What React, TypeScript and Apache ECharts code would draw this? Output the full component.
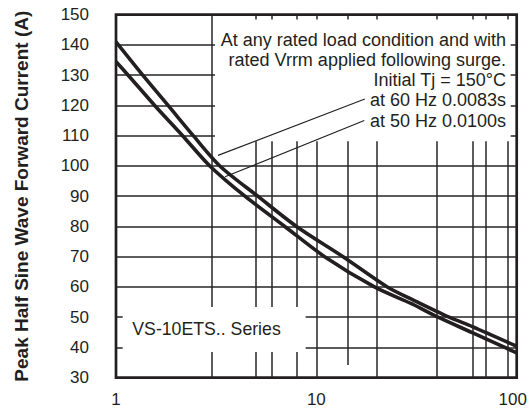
import React, { useEffect, useRef } from "react";
import * as echarts from "echarts";

// ---- data ----
// upper curve: 60 Hz, 0.0083 s
const curve60Hz: [number, number][] = [
  [1, 141], [1.36, 130], [1.82, 120], [2.43, 110], [3.3, 100], [5.1, 90],
  [7.96, 80], [13.6, 70], [22.6, 60], [30, 55.9], [46, 50], [60, 46.9], [100, 40.4],
];
// lower curve: 50 Hz, 0.0100 s
const curve50Hz: [number, number][] = [
  [1, 134.5], [1.15, 130], [1.56, 120], [2.15, 110], [2.94, 100], [4.4, 90],
  [6.96, 80], [11.0, 70], [19.5, 60], [30, 54.4], [40.5, 50], [60, 44.9], [100, 38.2],
];

const xMin = 1;
const xMax = 100;
const yMin = 30;
const yMax = 150;
const yStep = 10;

const hGridFull = [60, 70, 80, 90, 100];
const hGridUpper = [110, 120, 130, 140];
const hGridLower = [40, 50];
const vGridX = [3, 5, 6, 8, 10, 14.3, 20, 40, 60, 70, 90];

const noteLines = [
  "At any rated load condition and with",
  "rated Vrrm applied following surge.",
  "Initial Tj = 150°C",
  "at 60 Hz 0.0083s",
  "at 50 Hz 0.0100s",
];
const seriesTag = "VS-10ETS.. Series";
const yAxisTitle = "Peak Half Sine Wave Forward Current (A)";

// extents of the blank note areas (data coordinates)
const noteLeftX = 3.12;
const noteBottomY = 108.2;
const tagRightX = 8.84;
const tagTopY = 53.4;
const tagBottomY = 38.5;
const stubTopY = 148.4;
const stubRightX = 93.3;
const stubLeftX = 1.08;
const shortLineX = 14.3;
const shortLineBottomY = 34.2;

const leader60: [number, number][] = [[17.46, 122.1], [3.23, 103.5]];
const leader50: [number, number][] = [[17.35, 115.0], [3.5, 96.4]];

const FONT = "'Liberation Sans', Arial, Helvetica, sans-serif";
const INK = "#231f20";
const GRID = "#262626";

type Seg = [[number, number], [number, number]];

function buildGrid(): Seg[] {
  const segs: Seg[] = [];
  hGridFull.forEach((y) => segs.push([[xMin, y], [xMax, y]]));
  hGridUpper.forEach((y) => {
    segs.push([[xMin, y], [noteLeftX, y]]);
    segs.push([[stubRightX, y], [xMax, y]]);
  });
  hGridLower.forEach((y) => {
    segs.push([[xMin, y], [stubLeftX, y]]);
    segs.push([[tagRightX, y], [xMax, y]]);
  });
  vGridX.forEach((x) => {
    const top = x < noteLeftX ? yMax : noteBottomY;
    if (x >= noteLeftX) segs.push([[x, yMax], [x, stubTopY]]);
    if (x < tagRightX) {
      segs.push([[x, top], [x, tagTopY]]);
      segs.push([[x, tagBottomY], [x, yMin]]);
    } else {
      segs.push([[x, top], [x, x === shortLineX ? shortLineBottomY : yMin]]);
    }
  });
  return segs;
}

export default function App() {
  const ref = useRef<HTMLDivElement>(null);

  useEffect(() => {
    if (!ref.current) return;
    const chart = echarts.init(ref.current, undefined, { renderer: "svg" });
    const gridSegs = buildGrid();

    chart.setOption({
      animation: false,
      backgroundColor: "#ffffff",
      grid: {
        left: 116,
        right: 13.3,
        top: 14.7,
        bottom: 35.3,
        show: true,
        borderColor: INK,
        borderWidth: 2.7,
        backgroundColor: "transparent",
      },
      xAxis: {
        type: "log",
        logBase: 10,
        min: xMin,
        max: xMax,
        axisLine: { show: false },
        axisTick: { show: false },
        splitLine: { show: false },
        minorSplitLine: { show: false },
        axisLabel: {
          fontSize: 17,
          fontFamily: FONT,
          color: INK,
          margin: 13,
          formatter: (v: number) => (v === 100 ? `{last|${v}}` : `${v}`),
          rich: { last: { fontSize: 17, fontFamily: FONT, color: INK, padding: [0, 8, 0, 0] } },
        },
      },
      yAxis: {
        type: "value",
        min: yMin,
        max: yMax,
        interval: yStep,
        axisLine: { show: false },
        axisTick: { show: false },
        splitLine: { show: false },
        axisLabel: { fontSize: 17, fontFamily: FONT, color: INK, margin: 27 },
        name: yAxisTitle,
        nameLocation: "middle",
        nameGap: 85,
        nameTextStyle: { fontSize: 19, fontWeight: "bold", fontFamily: FONT, color: INK },
      },
      series: [
        {
          type: "line",
          data: [],
          z: 1,
          silent: true,
          markLine: {
            silent: true,
            z: 1,
            symbol: ["none", "none"],
            label: { show: false },
            emphasis: { disabled: true },
            lineStyle: { color: GRID, width: 1.5, type: "solid" },
            data: gridSegs.map(([a, b]) => [{ coord: a }, { coord: b }]),
          },
        },
        {
          type: "line",
          data: [],
          z: 1,
          silent: true,
          markLine: {
            silent: true,
            z: 1,
            symbol: ["none", "none"],
            label: { show: false },
            emphasis: { disabled: true },
            lineStyle: { color: INK, width: 1.1, type: "solid" },
            data: [leader60, leader50].map(([a, b]) => [{ coord: a }, { coord: b }]),
          },
        },
        {
          name: "60 Hz",
          type: "line",
          data: curve60Hz,
          smooth: 0.3,
          symbol: "none",
          z: 3,
          lineStyle: { color: INK, width: 3.6 },
        },
        {
          name: "50 Hz",
          type: "line",
          data: curve50Hz,
          smooth: 0.3,
          symbol: "none",
          z: 3,
          lineStyle: { color: INK, width: 3.6 },
        },
      ],
      graphic: [
        ...noteLines.map((t, i) => ({
          type: "text",
          x: 506,
          y: 39.8 + 20.2 * i,
          silent: true,
          style: {
            text: t,
            fontSize: 18,
            fontFamily: FONT,
            fill: INK,
            align: "right",
            verticalAlign: "middle",
          },
        })),
        {
          type: "text",
          x: 132.3,
          y: 329.3,
          silent: true,
          style: {
            text: seriesTag,
            fontSize: 17.7,
            fontFamily: FONT,
            fill: INK,
            align: "left",
            verticalAlign: "middle",
          },
        },
      ],
    });

    return () => chart.dispose();
  }, []);

  return (
    <div
      ref={ref}
      style={{ position: "fixed", left: 0, top: 0, width: 530, height: 413 }}
    />
  );
}
